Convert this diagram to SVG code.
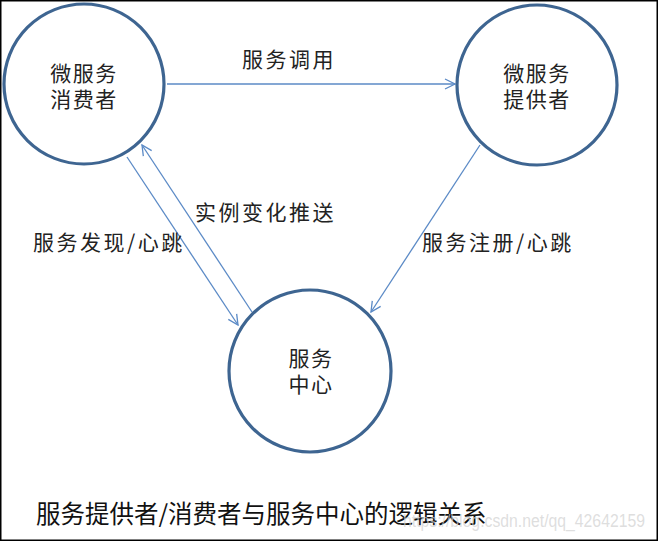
<svg xmlns="http://www.w3.org/2000/svg" width="658" height="541" viewBox="0 0 658 541">
<defs>
<marker id="arr" viewBox="0 0 12 12" refX="11" refY="6" markerWidth="12" markerHeight="12" markerUnits="userSpaceOnUse" orient="auto">
<path d="M1,1 L11,6 L1,11" fill="none" stroke="#5b8ac6" stroke-width="1.3"/>
</marker>
<style>
.node{fill:#fff;stroke:#3e6591;stroke-width:3.2}
.lbl{font-family:"Noto Sans CJK SC","Noto Sans",sans-serif;font-size:21px;fill:#222;letter-spacing:2.5px}
.ntx{font-family:"Noto Sans CJK SC","Noto Sans",sans-serif;font-size:21px;fill:#222;letter-spacing:1.5px}
.edge{stroke:#5b8ac6;stroke-width:1.3;fill:none;marker-end:url(#arr)}
.cap{font-family:"Noto Sans CJK SC","Noto Sans",sans-serif;font-size:24.5px;fill:#111}
</style>
</defs>
<rect x="0.5" y="0.5" width="657" height="540" fill="#fff" stroke="#000" stroke-width="2"/>
<g id="edges">
<line class="edge" x1="167" y1="84" x2="455" y2="84"/>
<line class="edge" x1="127" y1="157" x2="238" y2="325"/>
<line class="edge" x1="252" y1="312" x2="142" y2="145"/>
<line class="edge" x1="480" y1="145" x2="371" y2="312"/>
</g>
<g id="consumer">
<circle class="node" cx="84" cy="84" r="80"/>
<text class="ntx" text-anchor="middle"><tspan x="84" y="81">微服务</tspan><tspan x="84" y="107">消费者</tspan></text>
</g>
<g id="provider">
<circle class="node" cx="537" cy="85" r="80"/>
<text class="ntx" text-anchor="middle"><tspan x="537" y="81">微服务</tspan><tspan x="537" y="107">提供者</tspan></text>
</g>
<g id="center">
<circle class="node" cx="310" cy="371" r="81"/>
<text class="ntx" text-anchor="middle"><tspan x="311" y="366">服务</tspan><tspan x="311" y="392">中心</tspan></text>
</g>
<g id="labels">
<text class="lbl" x="242" y="67">服务调用</text>
<text class="lbl" x="195" y="220">实例变化推送</text>
<text class="lbl" x="33" y="250">服务发现/心跳</text>
<text class="lbl" x="422" y="250">服务注册/心跳</text>
</g>
<text class="cap" x="36" y="523">服务提供者/消费者与服务中心的逻辑关系</text>
<text x="403" y="527" textLength="242" lengthAdjust="spacingAndGlyphs" font-family="Liberation Sans,Arial,sans-serif" font-size="18" fill="#d0d0d0" fill-opacity="0.7">https://blog.csdn.net/qq_42642159</text>
</svg>
